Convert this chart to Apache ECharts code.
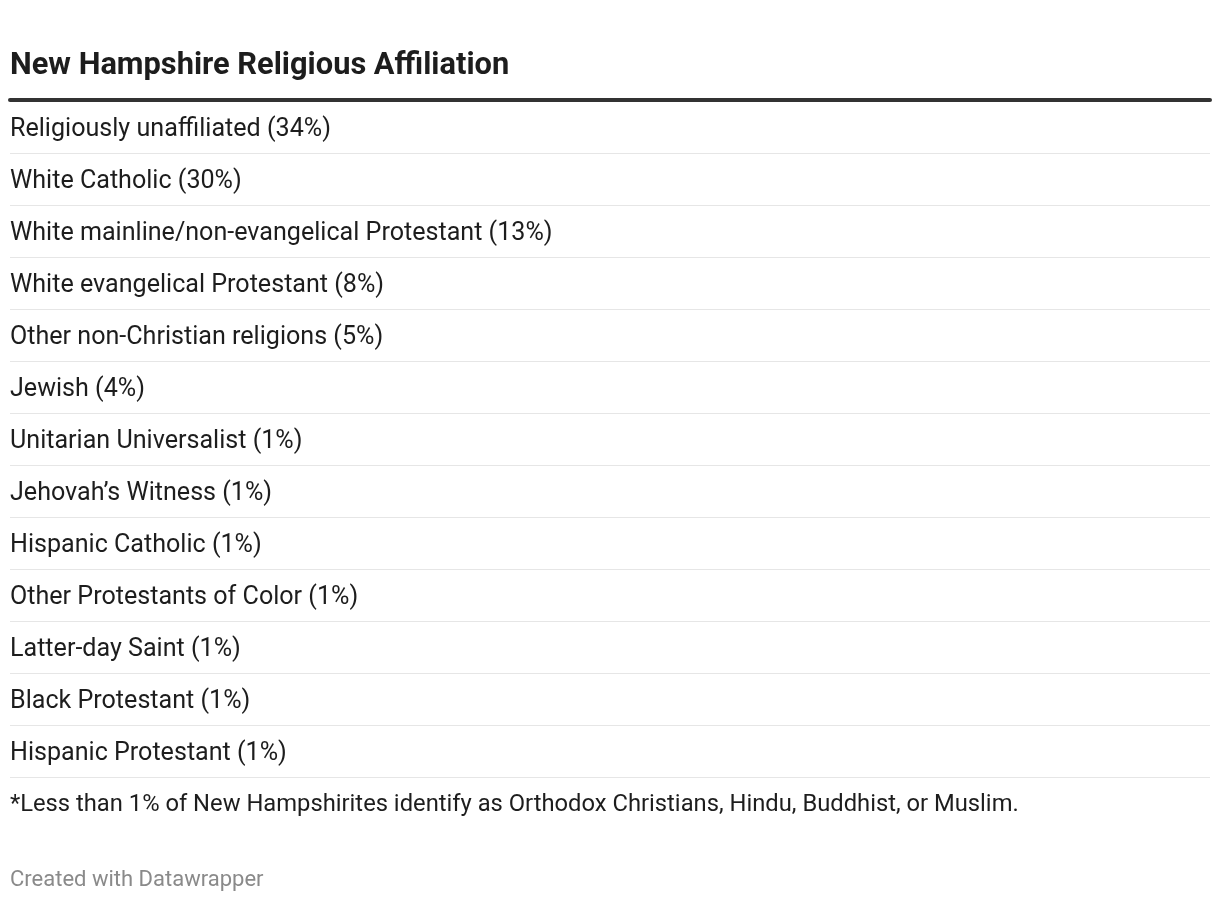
<!DOCTYPE html>
<html>
<head>
<meta charset="utf-8">
<style>
html,body{margin:0;padding:0;background:#fff;}
#chart{width:1220px;height:902px;}
</style>
<script src="https://cdn.jsdelivr.net/npm/echarts@6/dist/echarts.min.js"></script>
</head>
<body>
<div id="chart"></div>
<script>
const categories = [
  "Religiously unaffiliated",
  "White Catholic",
  "White mainline/non-evangelical Protestant",
  "White evangelical Protestant",
  "Other non-Christian religions",
  "Jewish",
  "Unitarian Universalist",
  "Jehovah\u2019s Witness",
  "Hispanic Catholic",
  "Other Protestants of Color",
  "Latter-day Saint",
  "Black Protestant",
  "Hispanic Protestant"
];
const shares = [34, 30, 13, 8, 5, 4, 1, 1, 1, 1, 1, 1, 1];
const titleText = "New Hampshire Religious Affiliation";
const noteText = "*Less than 1% of New Hampshirites identify as Orthodox Christians, Hindu, Buddhist, or Muslim.";
const creditText = "Created with Datawrapper";

const chart = echarts.init(document.getElementById('chart'), null, {renderer: 'canvas'});
const font = "Roboto, 'Noto Sans', Arial, sans-serif";
chart.setOption({
  backgroundColor: '#ffffff',
  animation: false,
  title: [
    {text: titleText, left: 10, top: 51, padding: 0, textStyle: {fontFamily: font, fontSize: 30.8, fontWeight: 'bold', color: '#1d1d1d'}},
    {text: noteText, left: 10, top: 793, padding: 0, textStyle: {fontFamily: font, fontSize: 23.75, fontWeight: 'normal', color: '#1d1d1d'}},
    {text: creditText, left: 10, top: 869, padding: 0, textStyle: {fontFamily: font, fontSize: 22, fontWeight: 'normal', color: '#8a8a8a'}}
  ],
  grid: {left: 10, right: 10, top: 101, bottom: 125, containLabel: false},
  xAxis: {
    type: 'value', position: 'top', min: 0, max: 100, offset: 1,
    axisLine: {show: true, lineStyle: {color: '#333333', width: 4}},
    axisTick: {show: false}, axisLabel: {show: false}, splitLine: {show: false}
  },
  yAxis: {
    type: 'category', inverse: true, data: categories,
    axisLine: {show: false}, axisTick: {show: false},
    axisLabel: {show: false},
    splitLine: {show: true, lineStyle: {color: '#e6e6e6', width: 1}}
  },
  series: [{
    type: 'bar', data: shares, silent: true, barWidth: 1,
    itemStyle: {color: 'rgba(0,0,0,0)'},
    label: {
      show: true, position: 'insideLeft', distance: 0, offset: [0, 3],
      fontFamily: font, fontSize: 25.1, color: '#1d1d1d',
      formatter: function (p) { return categories[p.dataIndex] + ' (' + p.value + '%)'; }
    }
  }]
});
</script>
</body>
</html>
